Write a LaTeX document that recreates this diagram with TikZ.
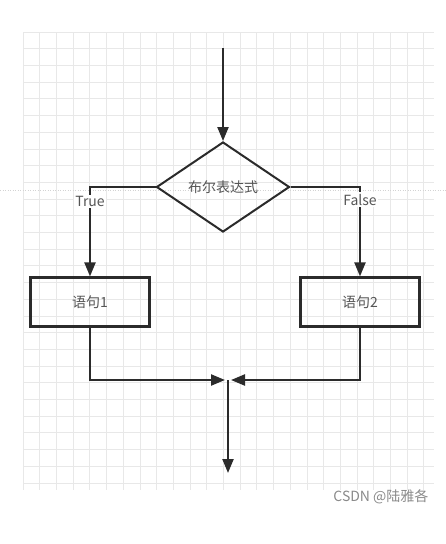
\documentclass[tikz,border=0pt]{standalone}
\usepackage{fontspec}
\newfontfamily\cjk{Noto Sans CJK SC}
\usetikzlibrary{shapes.geometric,arrows.meta}
\definecolor{linegray}{HTML}{2B2B2B}
\definecolor{textgray}{HTML}{555555}
\definecolor{gridgray}{HTML}{E8E8E8}
\definecolor{markgray}{HTML}{8A8A8A}

\begin{document}
\begin{tikzpicture}[x=1pt,y=-1pt,
  flow/.style={draw=linegray, line width=2.2pt, -{Triangle[length=14pt,width=11pt]}},
  cond/.style={diamond, draw=linegray, line width=2pt, aspect=1.5,
    minimum width=133pt, minimum height=90pt, inner sep=0pt,
    font=\cjk\fontsize{14}{16}\selectfont, text=textgray},
  stmt/.style={rectangle, draw=linegray, line width=2.2pt,
    minimum width=119pt, minimum height=49pt,
    font=\cjk\fontsize{14}{16}\selectfont, text=textgray},
  tag/.style={fill=white, inner sep=1.5pt, font=\cjk\fontsize{14}{16}\selectfont, text=textgray}]
\useasboundingbox (0,0) rectangle (446,544);
\fill[white] (0,0) rectangle (446,544);
% grid
\foreach \k in {0,...,24}
  \draw[gridgray, line width=0.8pt] (23+16.7*\k,32) -- (23+16.7*\k,490);
\foreach \k in {0,...,27}
  \draw[gridgray, line width=0.8pt] (23,32+16.7*\k) -- (434,32+16.7*\k);
\draw[gridgray!80!gray, line width=0.5pt, dotted] (0,190) -- (446,190);
% nodes
\coordinate (in) at (223,48);
\node[cond] (test) at (223,187) {布尔表达式};
\node[stmt] (stmtA) at (90,302) {语句1};
\node[stmt] (stmtB) at (360,302) {语句2};
\coordinate (merge) at (228,380);
\coordinate (out) at (228,473);
% connectors
\draw[flow] (in) -- (test.north);
\draw[flow] (test.west) -| node[tag, pos=0.58] {True} (stmtA.north);
\draw[flow] (test.east) -| node[tag, pos=0.57] {False} (stmtB.north);
\draw[flow] (stmtA.south) |- ([xshift=-3pt]merge);
\draw[flow] (stmtB.south) |- ([xshift=3pt]merge);
\draw[flow] (merge) -- (out);
% watermark
\node[font=\cjk\fontsize{14}{16}\selectfont, text=markgray, anchor=east] (mark) at (432,497) {CSDN @陆雅各};
\end{tikzpicture}
\end{document}
